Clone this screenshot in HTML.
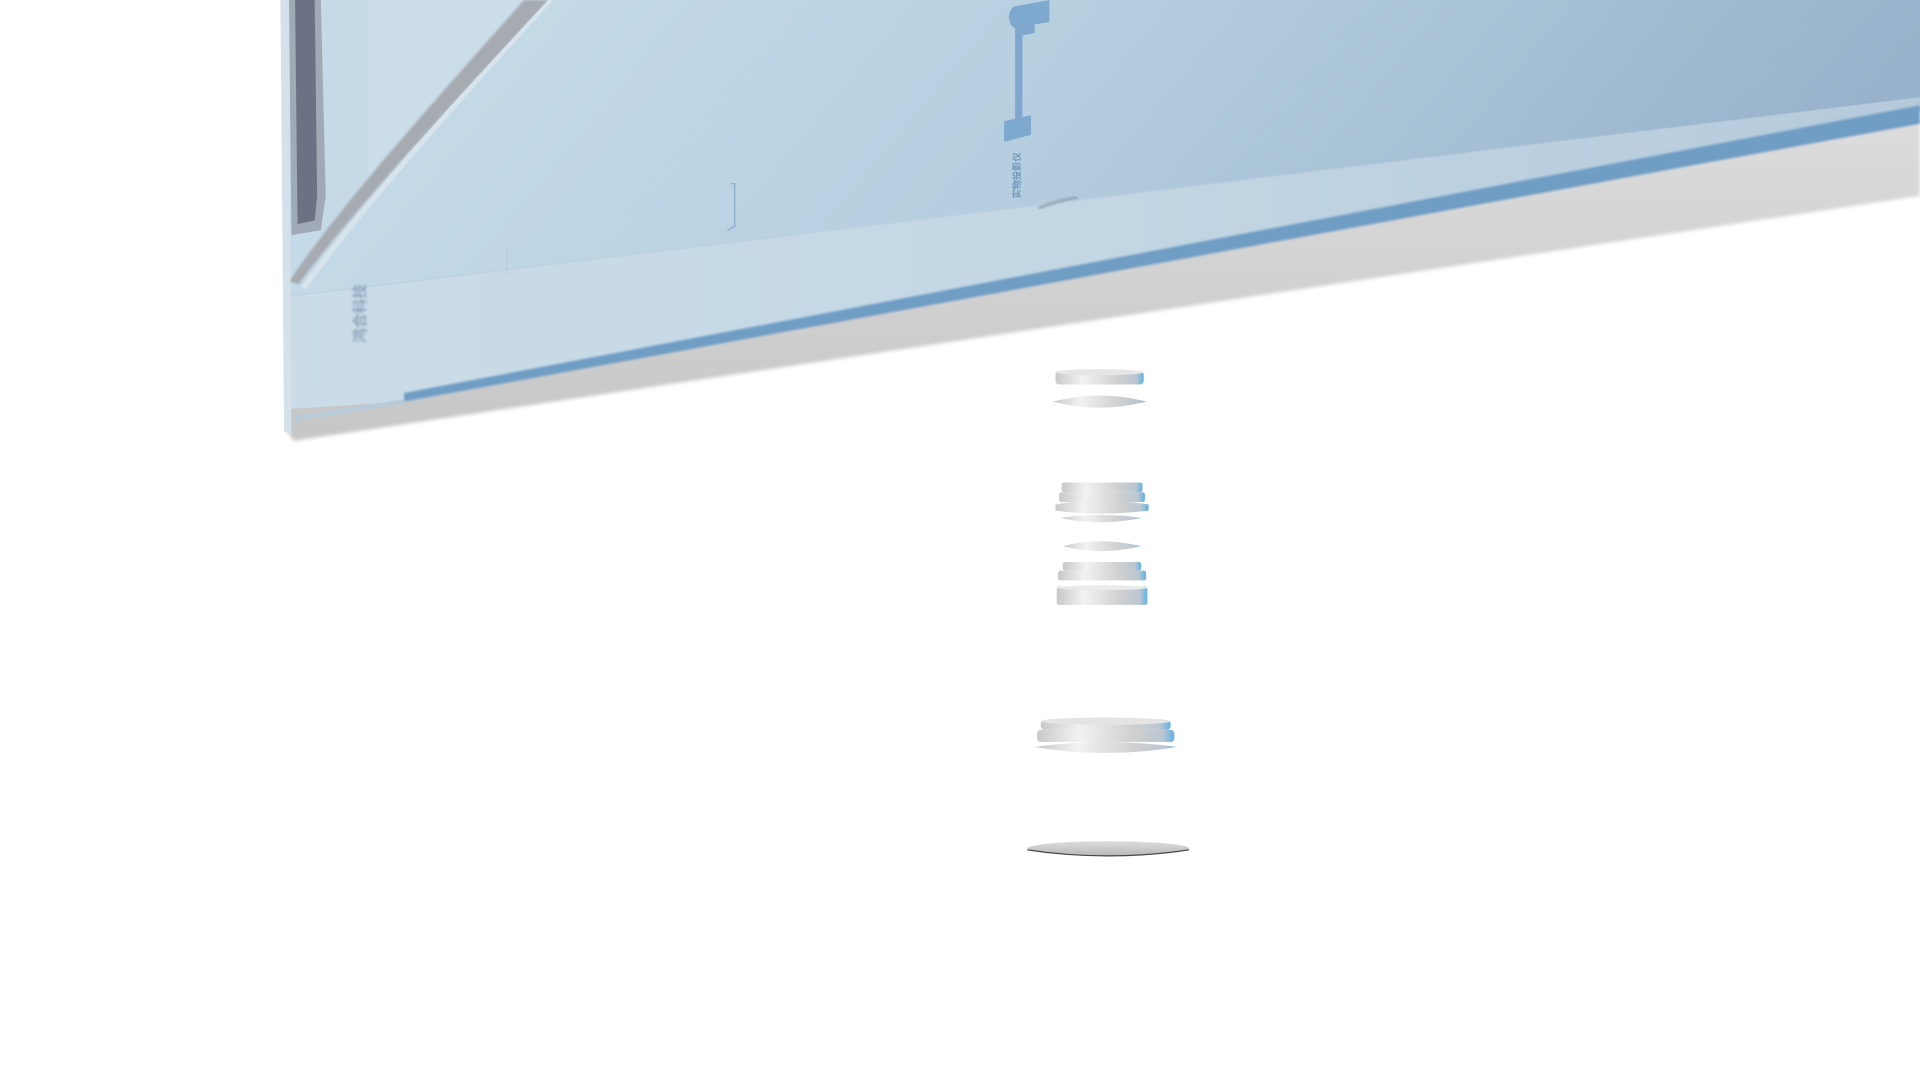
<!DOCTYPE html>
<html><head><meta charset="utf-8"><style>
html,body{margin:0;padding:0;background:#fff;width:1920px;height:1080px;overflow:hidden}
svg{display:block}
</style></head><body>
<svg width="1920" height="1080" viewBox="0 0 1568 882" preserveAspectRatio="none" xmlns="http://www.w3.org/2000/svg">
<defs>
<linearGradient id="face" x1="0" y1="0" x2="1" y2="0.15">
<stop offset="0" stop-color="#cadeea"/><stop offset="0.5" stop-color="#b6cfe0"/><stop offset="1" stop-color="#97b2ca"/></linearGradient>
<linearGradient id="pale" x1="0" y1="0" x2="1" y2="0">
<stop offset="0" stop-color="#cbdce8"/><stop offset="0.5" stop-color="#c2d6e4"/><stop offset="1" stop-color="#b5cadb"/></linearGradient>
<linearGradient id="gray" x1="0" y1="0" x2="0" y2="1">
<stop offset="0" stop-color="#dcdcdc"/><stop offset="1" stop-color="#c6c6c6"/></linearGradient>
<linearGradient id="lens" x1="0" y1="0" x2="1" y2="0">
<stop offset="0" stop-color="#c8c8c8"/><stop offset="0.3" stop-color="#f2f2f2"/><stop offset="0.7" stop-color="#d0d0d0"/><stop offset="0.92" stop-color="#b9c6d0"/><stop offset="1" stop-color="#5fb0e6"/></linearGradient>
<linearGradient id="disc" x1="0" y1="0" x2="0" y2="1">
<stop offset="0" stop-color="#dcdcdc"/><stop offset="1" stop-color="#b8b8b8"/></linearGradient>
<filter id="blur"><feGaussianBlur stdDeviation="1.5"/></filter>
<filter id="blur2"><feGaussianBlur stdDeviation="0.8"/></filter>
</defs>
<polygon points="236,330 1568,98 1568,160 240,360 234,352" fill="url(#gray)" filter="url(#blur)"/>
<polygon points="234,240 1568,78 1568,92 330,328 236,334" fill="url(#pale)"/>
<polygon points="330,321 1568,86 1568,101 330,328" fill="#6f9dc4" filter="url(#blur2)"/>
<polygon points="240,340 330,326 330,330 240,344" fill="#b9cad8"/>
<polygon points="229,0 1568,0 1568,80 235,242" fill="url(#face)"/>
<path d="M235,242 L1568,80" stroke="#bccfde" stroke-width="1.5" opacity="0.6"/>
<polygon points="262,0 445,0 262,190" fill="#c6d9e6"/>
<polygon points="300,0 450,0 300,150" fill="#cddfeb" opacity="0.6"/>
<polygon points="236,0 262,0 266,160 262,188 238,192" fill="#a0a9b6"/>
<polygon points="241,0 257,0 259,160 257,180 243,183" fill="#6a7284"/>
<path d="M428,0 L448,0 C360,95 290,170 244,232 L236,230 C280,165 350,88 428,0 Z" fill="#a6abb1" filter="url(#blur2)"/>
<path d="M448,0 L452,0 C364,96 296,172 250,236 L246,234 C292,170 360,94 448,0 Z" fill="#d8e4ec"/>
<polygon points="229,0 236,0 238,355 232,352" fill="#d4e1ea"/>
<g fill="#7fa8cf">
<ellipse cx="830" cy="14" rx="6" ry="9"/>
<polygon points="830,5 857,0 857,18 845,20 845,27 835,29 835,97 829,98 829,20"/>
<polygon points="820,99 842,94 842,110 820,116"/>
</g>
<text x="0" y="0" transform="translate(833,162) rotate(-90)" font-family="Liberation Sans,'Noto Sans CJK SC',sans-serif" font-size="7.5" fill="#6f95bb" font-weight="bold">实物投影仪</text>
<path d="M597,150 L600,150 L600,185 L594,188" stroke="#8fb2d0" stroke-width="1.2" fill="none"/>
<path d="M414,200 L414,225" stroke="#b8cede" stroke-width="1" fill="none"/>
<text x="0" y="0" transform="translate(298,280) rotate(-90)" font-family="Liberation Sans,'Noto Sans CJK SC',sans-serif" font-size="12" fill="#8ca6bf" font-weight="bold" filter="url(#blur2)">鸿合科技</text>
<path d="M848,170 C860,165 870,163 880,161" stroke="#8fa2b2" stroke-width="2" fill="none" filter="url(#blur2)"/>
<g>
<rect x="862" y="303" width="72" height="11" rx="3" fill="url(#lens)"/>
<ellipse cx="898" cy="304" rx="36" ry="2.5" fill="#e6e6e6"/>
<path d="M860,328 Q898,318 936,328 Q898,338 860,328 Z" fill="url(#lens)"/>
<rect x="867" y="394" width="66" height="8" rx="2" fill="url(#lens)"/>
<rect x="865" y="402" width="70" height="8" rx="2" fill="url(#lens)"/>
<path d="M862,412 Q898,405 938,412 L938,417 Q898,422 862,417 Z" fill="url(#lens)"/>
<path d="M866,423 Q898,418 932,423 Q898,430 866,423 Z" fill="url(#lens)"/>
<path d="M868,446 Q898,438 932,446 Q898,454 868,446 Z" fill="url(#lens)"/>
<rect x="868" y="459" width="64" height="7" rx="2" fill="url(#lens)"/>
<rect x="864" y="466" width="72" height="8" rx="2" fill="url(#lens)"/>
<rect x="863" y="479" width="74" height="15" rx="2" fill="url(#lens)"/>
<ellipse cx="900" cy="480" rx="37" ry="2" fill="#eaeaea"/>
<rect x="850" y="588" width="106" height="8" rx="3" fill="url(#lens)"/>
<ellipse cx="903" cy="589" rx="53" ry="3" fill="#e4e4e4"/>
<rect x="847" y="596" width="112" height="10" rx="3" fill="url(#lens)"/>
<path d="M845,610 Q903,602 961,610 Q903,620 845,610 Z" fill="url(#lens)"/>
<ellipse cx="905" cy="693" rx="66" ry="6" fill="url(#disc)"/>
<path d="M839,694 Q905,704 971,694" stroke="#444" stroke-width="1" fill="none"/>
</g>
</svg>
</body></html>
